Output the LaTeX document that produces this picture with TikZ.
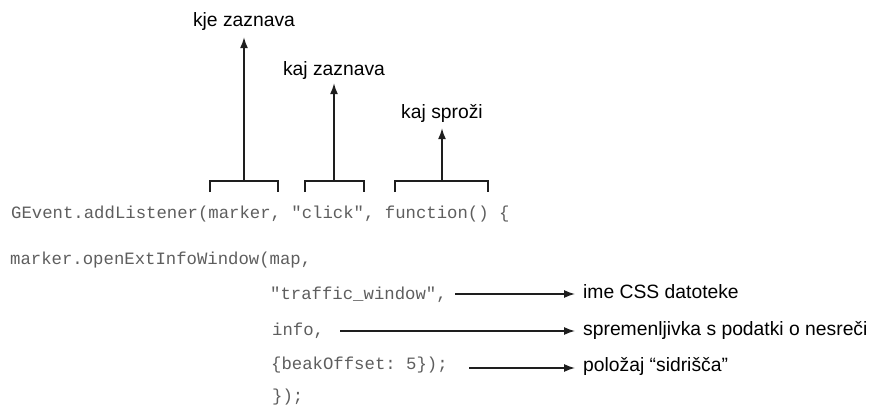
\documentclass[tikz,border=0pt]{standalone}
\usepackage{fontspec}
\setmainfont{Liberation Sans}
\setmonofont{Liberation Mono}
\usetikzlibrary{arrows.meta}
\definecolor{codegray}{HTML}{5E5E5E}
\definecolor{ink}{HTML}{1E1E1E}
\begin{document}
\begin{tikzpicture}[x=1pt,y=-1pt,
  code/.style={font=\ttfamily\fontsize{17.3}{20}\selectfont, text=codegray, inner sep=0pt, anchor=base west, text height=11pt, text depth=3pt},
  lbl/.style={font=\fontsize{19.3}{22}\selectfont, text=black, inner sep=0pt, text depth=0pt},
  conn/.style={draw=ink, line width=1.4pt},
  arr/.style={conn, -{Latex[length=11pt,width=8pt]}},
  ]
\useasboundingbox (0,0) rectangle (869,410);

% code lines
\node[code] (c1) at (11,218) {GEvent.addListener(marker, "click", function() \{};
\node[code] (c2) at (10,264) {marker.openExtInfoWindow(map,};
\node[code] (c3) at (270,299) {"traffic\_window",};
\node[code] (c4) at (272,335) {info,};
\node[code] (c5) at (271,369) {\{beakOffset: 5\});};
\node[code] (c6) at (272,401) {\});};

% top labels
\node[lbl, anchor=base] (t1) at (244,26) {kje zaznava};
\node[lbl, anchor=base] (t2) at (334,75) {kaj zaznava};
\node[lbl, anchor=base] (t3) at (442,118) {kaj sproži};

% brackets
\draw[conn] (210,192) -- (210,181) -- (278,181) -- (278,192);
\draw[conn] (305,192) -- (305,181) -- (364,181) -- (364,192);
\draw[conn] (395,192) -- (395,181) -- (488,181) -- (488,192);
\coordinate (b1) at (244,181);
\coordinate (b2) at (334,181);
\coordinate (b3) at (442,181);
\draw[arr, shorten >=11pt] (b1) -- (t1.south);
\draw[arr, shorten >=8pt] (b2) -- (t2.south);
\draw[arr, shorten >=10pt] (b3) -- (t3.south);

% right labels
\node[lbl, anchor=base west] (r3) at (583,298) {ime CSS datoteke};
\node[lbl, anchor=base west] (r4) at (583,335) {spremenljivka s podatki o nesreči};
\node[lbl, anchor=base west] (r5) at (583,371) {položaj “sidrišča”};

\coordinate (s3) at (455,294);
\coordinate (s4) at (340,331);
\coordinate (s5) at (469,368);
\draw[arr, shorten >=8pt] (s3) -- (s3 -| r3.west);
\draw[arr, shorten >=8pt] (s4) -- (s4 -| r4.west);
\draw[arr, shorten >=8pt] (s5) -- (s5 -| r5.west);
\end{tikzpicture}
\end{document}
